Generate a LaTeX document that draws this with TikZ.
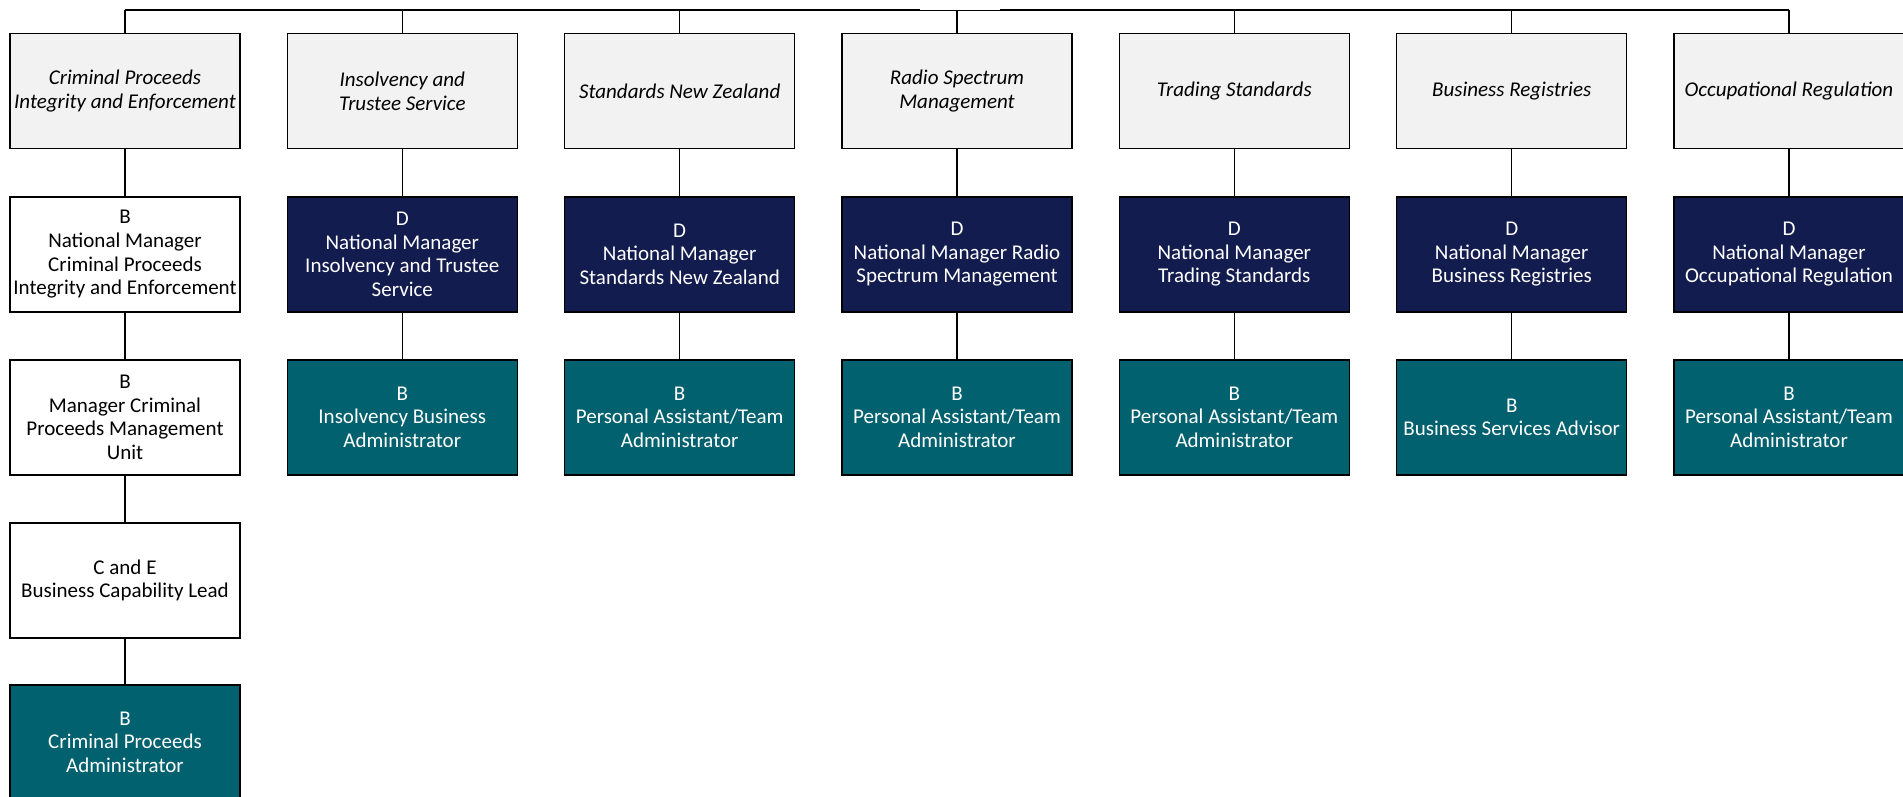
\documentclass[tikz,border=0pt]{standalone}
\usepackage{fontspec}
\setmainfont{Carlito}
\definecolor{unitgray}{HTML}{F2F2F2}
\definecolor{navyrole}{HTML}{131C4E}
\definecolor{tealrole}{HTML}{02616F}
\begin{document}
\begin{tikzpicture}[x=1pt,y=-1pt,
  box/.style={draw=black, line width=1.5pt, minimum width=230pt, minimum height=115pt,
    inner sep=0pt, align=center, anchor=north, font=\fontsize{21}{23.7}\selectfont},
  unitbox/.style={box, fill=unitgray, font=\fontsize{21}{23.7}\selectfont\itshape},
  plainbox/.style={box, fill=white},
  navybox/.style={box, fill=navyrole, text=white},
  tealbox/.style={box, fill=tealrole, text=white},
  link/.style={draw=black, line width=1.5pt}]
\useasboundingbox (0,0) rectangle (1903,797);
\clip (0,0) rectangle (1903,797);

% bus points above each unit
\foreach \i/\cx in {1/125,2/402.3,3/679.7,4/957,5/1234.3,6/1511.7,7/1789}
  \coordinate (bus\i) at (\cx,10);

% unit headers
\node[unitbox] (h1) at (125,33)    {Criminal Proceeds\\Integrity and Enforcement};
\node[unitbox] (h2) at (402.3,33)  {Insolvency and\\Trustee Service};
\node[unitbox] (h3) at (679.7,33)  {Standards New Zealand};
\node[unitbox] (h4) at (957,33)    {Radio Spectrum\\Management};
\node[unitbox] (h5) at (1234.3,33) {Trading Standards};
\node[unitbox] (h6) at (1511.7,33) {Business Registries};
\node[unitbox] (h7) at (1789,33)   {Occupational Regulation};

% Criminal Proceeds chain
\node[plainbox] (c2) at (125,196) {B\\National Manager\\Criminal Proceeds\\Integrity and Enforcement};
\node[plainbox] (c3) at (125,359) {B\\Manager Criminal\\Proceeds Management\\Unit};
\node[plainbox] (c4) at (125,522) {C and E\\Business Capability Lead};
\node[tealbox]  (c5) at (125,684) {B\\Criminal Proceeds\\Administrator};

% national managers
\node[navybox] (m2) at (402.3,196)  {D\\National Manager\\Insolvency and Trustee\\Service};
\node[navybox] (m3) at (679.7,196)  {D\\National Manager\\Standards New Zealand};
\node[navybox] (m4) at (957,196)    {D\\National Manager Radio\\Spectrum Management};
\node[navybox] (m5) at (1234.3,196) {D\\National Manager\\Trading Standards};
\node[navybox] (m6) at (1511.7,196) {D\\National Manager\\Business Registries};
\node[navybox] (m7) at (1789,196)   {D\\National Manager\\Occupational Regulation};

% support roles
\node[tealbox] (s2) at (402.3,359)  {B\\Insolvency Business\\Administrator};
\node[tealbox] (s3) at (679.7,359)  {B\\Personal Assistant/Team\\Administrator};
\node[tealbox] (s4) at (957,359)    {B\\Personal Assistant/Team\\Administrator};
\node[tealbox] (s5) at (1234.3,359) {B\\Personal Assistant/Team\\Administrator};
\node[tealbox] (s6) at (1511.7,359) {B\\Business Services Advisor};
\node[tealbox] (s7) at (1789,359)   {B\\Personal Assistant/Team\\Administrator};

% connectors
\draw[link] (bus1) -- (bus7);
\foreach \i in {1,...,7} \draw[link] (bus\i) -- (h\i.north);
\draw[link] (h1.south) -- (c2.north);
\draw[link] (c2.south) -- (c3.north);
\draw[link] (c3.south) -- (c4.north);
\draw[link] (c4.south) -- (c5.north);
\foreach \i in {2,...,7} {
  \draw[link] (h\i.south) -- (m\i.north);
  \draw[link] (m\i.south) -- (s\i.north);
}
% thin notch in the bus line above the middle unit
\fill[white] (920,0) rectangle (1000,9.6);
\end{tikzpicture}
\end{document}
